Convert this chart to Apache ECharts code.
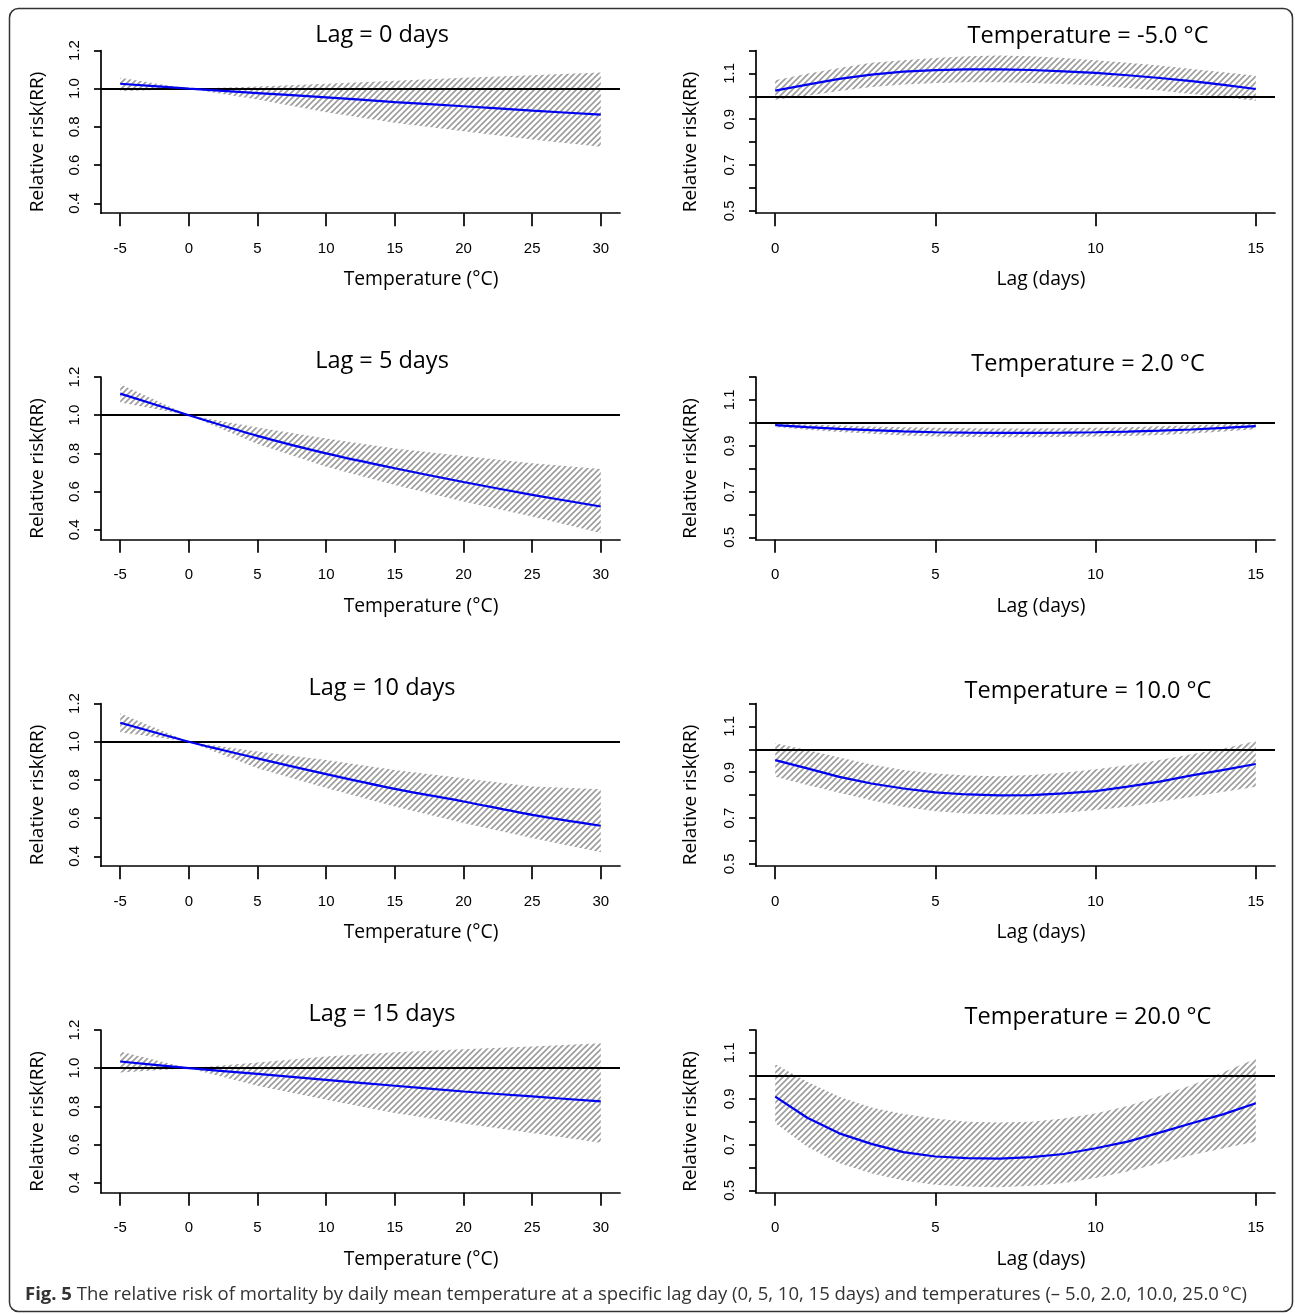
<!DOCTYPE html>
<html lang="en">
<head>
<meta charset="UTF-8">
<title>Relative risk by temperature and lag</title>
<script src="https://cdn.jsdelivr.net/npm/echarts@6/dist/echarts.min.js"></script>
<style>
    html, body { margin: 0; padding: 0; background: #fff; }
    #main { width: 1295px; height: 1314px; }
</style>
</head>
<body>
<div id="main"></div>
<script>
    // x values
    const tempX = [-5, 0, 5, 10, 15, 20, 25, 30];
    const lagX = [0, 1, 2, 3, 4, 5, 6, 7, 8, 9, 10, 11, 12, 13, 14, 15];

    // tick labels
    const tempTicks = [-5, 0, 5, 10, 15, 20, 25, 30];
    const lagTicks = [0, 5, 10, 15];
    const rrTicksLeft = [0.4, 0.6, 0.8, 1.0, 1.2];
    const rrTicksRight = [0.5, 0.6, 0.7, 0.8, 0.9, 1.0, 1.1, 1.2];
    const rrLabelsRight = [0.5, 0.7, 0.9, 1.1];

    // RR by temperature at a given lag (fit, lower, upper)
    const lag0Fit = [1.026, 1.0, 0.977, 0.955, 0.930, 0.908, 0.885, 0.864];
    const lag0Low = [0.986, 1.0, 0.943, 0.877, 0.821, 0.777, 0.734, 0.696];
    const lag0High = [1.057, 1.0, 1.012, 1.026, 1.042, 1.057, 1.071, 1.085];

    const lag5Fit = [1.113, 1.0, 0.892, 0.800, 0.722, 0.650, 0.583, 0.522];
    const lag5Low = [1.066, 1.0, 0.849, 0.730, 0.635, 0.548, 0.470, 0.383];
    const lag5High = [1.162, 1.0, 0.936, 0.878, 0.826, 0.786, 0.748, 0.718];

    const lag10Fit = [1.099, 1.0, 0.913, 0.830, 0.753, 0.687, 0.617, 0.560];
    const lag10Low = [1.049, 1.0, 0.861, 0.757, 0.661, 0.574, 0.496, 0.421];
    const lag10High = [1.148, 1.0, 0.948, 0.904, 0.852, 0.809, 0.766, 0.751];

    const lag15Fit = [1.035, 1.0, 0.970, 0.939, 0.908, 0.878, 0.852, 0.826];
    const lag15Low = [0.977, 1.0, 0.908, 0.835, 0.765, 0.710, 0.661, 0.609];
    const lag15High = [1.087, 1.0, 1.030, 1.061, 1.083, 1.099, 1.113, 1.130];

    // RR by lag at a given temperature (fit, lower, upper)
    const tm5Fit = [1.025, 1.051, 1.076, 1.095, 1.108, 1.114, 1.118, 1.118, 1.115, 1.109, 1.102, 1.092, 1.080, 1.066, 1.050, 1.032];
    const tm5Low = [0.985, 1.003, 1.023, 1.041, 1.052, 1.058, 1.061, 1.061, 1.058, 1.054, 1.047, 1.036, 1.025, 1.010, 0.996, 0.981];
    const tm5High = [1.070, 1.099, 1.124, 1.146, 1.157, 1.167, 1.175, 1.178, 1.175, 1.167, 1.157, 1.146, 1.134, 1.119, 1.105, 1.090];

    const t2Fit = [0.990, 0.981, 0.974, 0.968, 0.963, 0.959, 0.957, 0.956, 0.956, 0.957, 0.959, 0.962, 0.966, 0.971, 0.978, 0.986];
    const t2Low = [0.982, 0.970, 0.960, 0.952, 0.945, 0.940, 0.938, 0.937, 0.937, 0.938, 0.940, 0.943, 0.947, 0.953, 0.962, 0.972];
    const t2High = [0.998, 0.993, 0.988, 0.984, 0.981, 0.978, 0.976, 0.975, 0.975, 0.976, 0.978, 0.981, 0.985, 0.989, 0.994, 1.000];

    const t10Fit = [0.953, 0.917, 0.880, 0.851, 0.829, 0.812, 0.803, 0.799, 0.800, 0.808, 0.818, 0.837, 0.859, 0.886, 0.910, 0.936];
    const t10Low = [0.880, 0.844, 0.810, 0.778, 0.749, 0.730, 0.720, 0.716, 0.717, 0.723, 0.735, 0.749, 0.771, 0.793, 0.815, 0.837];
    const t10High = [1.026, 0.997, 0.964, 0.934, 0.910, 0.895, 0.886, 0.883, 0.888, 0.898, 0.913, 0.931, 0.953, 0.978, 1.004, 1.036];

    const t20Fit = [0.909, 0.817, 0.749, 0.703, 0.667, 0.648, 0.641, 0.639, 0.645, 0.659, 0.684, 0.713, 0.752, 0.793, 0.833, 0.880];
    const t20Low = [0.793, 0.691, 0.619, 0.575, 0.543, 0.525, 0.517, 0.514, 0.520, 0.532, 0.554, 0.583, 0.619, 0.655, 0.684, 0.713];
    const t20High = [1.051, 0.974, 0.909, 0.862, 0.833, 0.814, 0.800, 0.796, 0.800, 0.814, 0.836, 0.868, 0.912, 0.959, 1.017, 1.075];

    const panels = [
        {col: 0, row: 0, title: 'Lag = 0 days', x: tempX, fit: lag0Fit, low: lag0Low, high: lag0High},
        {col: 0, row: 1, title: 'Lag = 5 days', x: tempX, fit: lag5Fit, low: lag5Low, high: lag5High},
        {col: 0, row: 2, title: 'Lag = 10 days', x: tempX, fit: lag10Fit, low: lag10Low, high: lag10High},
        {col: 0, row: 3, title: 'Lag = 15 days', x: tempX, fit: lag15Fit, low: lag15Low, high: lag15High},
        {col: 1, row: 0, title: 'Temperature = -5.0 °C', x: lagX, fit: tm5Fit, low: tm5Low, high: tm5High},
        {col: 1, row: 1, title: 'Temperature = 2.0 °C', x: lagX, fit: t2Fit, low: t2Low, high: t2High},
        {col: 1, row: 2, title: 'Temperature = 10.0 °C', x: lagX, fit: t10Fit, low: t10Low, high: t10High},
        {col: 1, row: 3, title: 'Temperature = 20.0 °C', x: lagX, fit: t20Fit, low: t20Low, high: t20High}
    ];

    const GRID_LEFT = [101, 756];
    const GRID_W = 519;
    const TOP0 = 50.5;
    const STEP = 326.5;
    const GRID_H = 162.7;
    const TITLE_X = [382, 1088];
    const TITLE_Y = [[35, 361, 688, 1014], [36, 364, 691, 1017]];
    const XNAME_X = [421, 1041];
    const YNAME_X = [38, 691];

    const AXIS_FONT = 'Liberation Sans, Arial, sans-serif';
    const TEXT_FONT = 'Open Sans, Noto Sans, sans-serif';

    function hatch() {
        const s = 6;
        const c = document.createElement('canvas');
        c.width = s;
        c.height = s;
        const ctx = c.getContext('2d');
        ctx.strokeStyle = '#9c9c9c';
        ctx.lineWidth = 1.6;
        ctx.beginPath();
        ctx.moveTo(-1, s + 1); ctx.lineTo(s + 1, -1);
        ctx.moveTo(-1, 1); ctx.lineTo(1, -1);
        ctx.moveTo(s - 1, s + 1); ctx.lineTo(s + 1, s - 1);
        ctx.stroke();
        return c;
    }
    const hatchImg = hatch();

    function zip(xs, ys) {
        return xs.map((x, i) => [x, ys[i]]);
    }

    function text(str, x, y, size, rotation) {
        return {
            type: 'text', x: x, y: y, rotation: rotation || 0, silent: true,
            style: {
                text: str, fontSize: size, fontFamily: TEXT_FONT, fill: '#000',
                textAlign: 'center', textVerticalAlign: 'middle',
                align: 'center', verticalAlign: 'middle'
            }
        };
    }

    // draws the whole confidence band as one hatched polygon
    function bandRenderer(p) {
        return function (params, api) {
            if (params.dataIndex !== 0) return null;
            const upper = p.x.map((x, k) => api.coord([x, p.high[k]]));
            const lower = p.x.map((x, k) => api.coord([x, p.low[k]])).reverse();
            return {
                type: 'polygon',
                shape: {points: upper.concat(lower)},
                style: {fill: {image: hatchImg, repeat: 'repeat'}, stroke: null}
            };
        };
    }

    const grid = [], xAxis = [], yAxis = [], series = [], graphic = [];
    const axisLine = {show: true, onZero: false, lineStyle: {color: '#000', width: 1.7}};

    panels.forEach((p, i) => {
        const top = TOP0 + p.row * STEP;
        grid.push({left: GRID_LEFT[p.col], top: top, width: GRID_W, height: GRID_H});
        const left = p.col === 0;
        xAxis.push({
            type: 'value', gridIndex: i,
            min: left ? -6.4 : -0.6, max: left ? 31.4 : 15.6,
            axisLine: axisLine,
            axisTick: {show: true, length: 13, lineStyle: {color: '#000', width: 1.7},
                customValues: left ? tempTicks : lagTicks},
            axisLabel: {customValues: left ? tempTicks : lagTicks, margin: 28,
                fontSize: 15, color: '#000', fontFamily: AXIS_FONT},
            splitLine: {show: false}
        });
        yAxis.push({
            type: 'value', gridIndex: i,
            min: left ? 0.348 : 0.49, max: 1.2,
            axisLine: axisLine,
            axisTick: {show: true, length: 7, lineStyle: {color: '#000', width: 1.7},
                customValues: left ? rrTicksLeft : rrTicksRight},
            axisLabel: {customValues: left ? rrTicksLeft : rrLabelsRight, rotate: 90, margin: 19,
                fontSize: 15, color: '#000', fontFamily: AXIS_FONT,
                formatter: v => v.toFixed(1)},
            splitLine: {show: false}
        });
        series.push({
            type: 'custom', xAxisIndex: i, yAxisIndex: i,
            data: p.x.map((x, k) => [x, p.low[k], p.high[k]]),
            encode: {x: 0, y: [1, 2]},
            renderItem: bandRenderer(p),
            silent: true, z: 1
        });
        series.push({
            type: 'line', xAxisIndex: i, yAxisIndex: i,
            data: zip(p.x, p.fit), symbol: 'none', smooth: left ? 0.25 : false,
            lineStyle: {color: '#0000f0', width: 2.2}, silent: true, z: 3,
            markLine: {
                silent: true, symbol: ['none', 'none'], label: {show: false},
                lineStyle: {color: '#000', width: 1.8, type: 'solid'},
                data: [{yAxis: 1}], z: 2
            }
        });

        graphic.push(text(p.title, TITLE_X[p.col], TITLE_Y[p.col][p.row], 23.5));
        graphic.push(text(left ? 'Temperature (°C)' : 'Lag (days)', XNAME_X[p.col], 280 + p.row * STEP, 19.3));
        graphic.push(text('Relative risk(RR)', YNAME_X[p.col], 142 + p.row * STEP, 19, Math.PI / 2));
    });

    graphic.push({
        type: 'rect', silent: true,
        shape: {x: 9.5, y: 8.5, width: 1283, height: 1303, r: 9},
        style: {fill: 'none', stroke: '#333', lineWidth: 1.5}
    });
    graphic.push({
        type: 'text', x: 25, y: 1295, silent: true,
        style: {
            text: '{b|Fig. 5} The relative risk of mortality by daily mean temperature at a specific lag day (0, 5, 10, 15 days) and temperatures (\u2013 5.0, 2.0, 10.0, 25.0\u2009°C)',
            fontSize: 18.5, fontFamily: TEXT_FONT, fill: '#333',
            textAlign: 'left', textVerticalAlign: 'middle', align: 'left', verticalAlign: 'middle',
            rich: {b: {fontSize: 18.5, fontFamily: TEXT_FONT, fontWeight: 'bold', fill: '#333'}}
        }
    });

    const chart = echarts.init(document.getElementById('main'));
    chart.setOption({
        animation: false,
        backgroundColor: '#fff',
        grid: grid,
        xAxis: xAxis,
        yAxis: yAxis,
        series: series,
        graphic: graphic
    });
</script>
</body>
</html>
